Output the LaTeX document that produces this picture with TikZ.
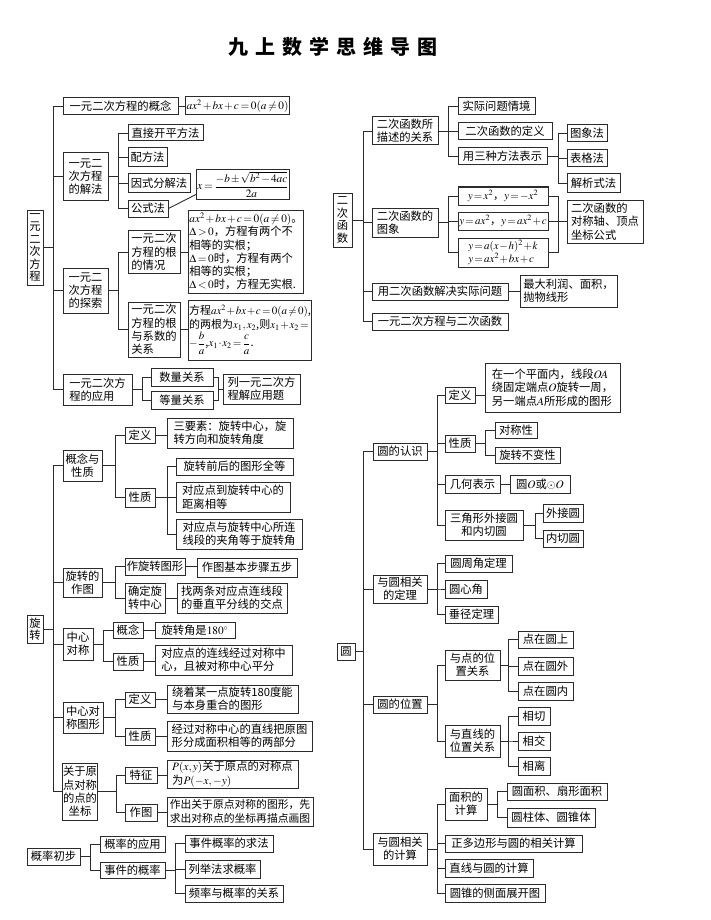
\documentclass[tikz,border=0pt]{standalone}
\usepackage{amsmath}
\usepackage{mathptmx}
\usepackage[no-math]{fontspec}
\setmainfont{Noto Sans CJK SC}
\definecolor{lc}{HTML}{2B2B2B}
\newcommand{\fsz}{\fontsize{11.3}{13.3}\selectfont\medmuskip=1.5mu\relax\thickmuskip=2.5mu\relax}
\newcommand{\fszs}{\fontsize{11}{14}\selectfont\medmuskip=1mu\relax\thickmuskip=2mu\relax}
\newcommand{\fszq}{\fontsize{11}{13}\selectfont\medmuskip=1mu\relax\thickmuskip=2mu\relax}
\newcommand{\fszt}{\fontsize{10.8}{13.3}\selectfont}
\newcommand{\vsz}{\fontsize{11.3}{12.5}\selectfont}
\tikzset{
  bx/.style={draw=lc, line width=1pt, inner sep=1pt, font=\fsz, align=center, text=black},
  vbx/.style={bx, font=\vsz},
  lft/.style={align=left},
  sz/.style 2 args={minimum width=#1pt, minimum height=#2pt},
  ln/.style={draw=lc, line width=0.9pt},
}
\begin{document}
\begin{tikzpicture}[x=1pt,y=-1pt]
\useasboundingbox (0,0) rectangle (711,920);
\node[font=\fontsize{20}{24}\selectfont\bfseries] (title) at (333,47)
  {九\hspace{7pt}上\hspace{7pt}数\hspace{7pt}学\hspace{7pt}思\hspace{7pt}维\hspace{7pt}导\hspace{7pt}图};

% ---------- 一元二次方程 ----------
\node[vbx,sz={16}{75}] (n1) at (35,247.5) {一\\元\\二\\次\\方\\程};
\node[bx,sz={115}{17}] (a1) at (120.5,106.5) {一元二次方程的概念};
\node[bx,sz={99}{18}] (a1f) at (237.5,106) {$ax^2+bx+c=0(a\neq 0)$};
\node[bx,lft,sz={45}{47}] (a2) at (85.5,176.5) {一元二\\次方程\\的解法};
\node[bx,sz={75}{16}] (a21) at (165.5,133) {直接开平方法};
\node[bx,sz={39}{19}] (a22) at (147.5,157.5) {配方法};
\node[bx,sz={62}{18}] (a23) at (159,183) {因式分解法};
\node[bx,sz={40}{17}] (a24) at (148,208.5) {公式法};
\node[bx,sz={82}{29}] (a24f) at (243,184.5) {$x=\dfrac{-b\pm\sqrt{b^2-4ac}}{2a}$};
\node[bx,lft,sz={45}{45}] (a3) at (85.5,290.5) {一元二\\次方程\\的探索};
\node[bx,lft,sz={52}{43}] (a31) at (154,252) {一元二次\\方程的根\\的情况};
\node[bx,lft,sz={112}{83}] (a31f) at (246,251.5) {$ax^2+bx+c=0(a\neq 0)$。\\$\Delta>0$，方程有两个不\\相等的实根；\\$\Delta=0$时，方程有两个\\相等的实根；\\$\Delta<0$时，方程无实根.};
\node[bx,lft,sz={52}{55}] (a32) at (154,329.5) {一元二次\\方程的根\\与系数的\\关系};
\node[bx,lft,sz={120}{60},font=\fszs] (a32f) at (250,330) {方程$ax^2+bx+c=0(a\neq 0)$,\\的两根为$x_1,x_2$,则$x_1+x_2=$\\$-\dfrac{b}{a}$,$x_1\cdot x_2=\dfrac{c}{a}$.};
\node[bx,lft,sz={69}{31}] (a4) at (97.5,389.5) {一元二次方\\程的应用};
\node[bx,sz={62}{18}] (a41) at (182,377) {数量关系};
\node[bx,sz={62}{18}] (a42) at (182,400) {等量关系};
\node[bx,lft,sz={77}{30}] (a43) at (261.5,389) {列一元二次方\\程解应用题};

\foreach \c in {a1,a2,a3,a4} \draw[ln] (n1.east) -- ++(10,0) |- (\c.west);
\draw[ln] (a1.east) -- (a1.east -| a1f.west);
\foreach \c in {a21,a22,a23,a24} \draw[ln] (a2.east) -- ++(10,0) |- (\c.west);
\draw[ln] (a24.east) -- ([yshift=5pt]a24f.south west);
\foreach \c in {a31,a32} \draw[ln] (a3.east) -- ++(10,0) |- (\c.west);
\draw[ln] (a31.east) -- (a31.east -| a31f.west);
\draw[ln] (a32.east) -- (a32.east -| a32f.west);
\foreach \c in {a41,a42} \draw[ln] (a4.east) -- ++(10,0) |- (\c.west);
\foreach \c in {a41,a42} \draw[ln] (\c.east) -- ++(5,0) |- (a43.west);

% ---------- 旋转 ----------
\node[vbx,sz={16}{28}] (r) at (35,629) {旋\\转};
\node[bx,sz={39}{31}] (r1) at (82.5,465.5) {概念与\\性质};
\node[bx,sz={30}{16}] (r11) at (140,435) {定义};
\node[bx,lft,sz={126}{30}] (r11t) at (230,433) {三要素：旋转中心，旋\\转方向和旋转角度};
\node[bx,sz={30}{19}] (r12) at (140,497.5) {性质};
\node[bx,sz={117}{17}] (r121) at (234.5,466.5) {旋转前后的图形全等};
\node[bx,lft,sz={114}{30}] (r122) at (233,497) {对应点到旋转中心的\\距离相等};
\node[bx,lft,sz={126}{30}] (r123) at (239,534) {对应点与旋转中心所连\\线段的夹角等于旋转角};
\node[bx,sz={39}{29}] (r2) at (82.5,582.5) {旋转的\\作图};
\node[bx,sz={60}{17}] (r21) at (155,566.5) {作旋转图形};
\node[bx,sz={100}{19}] (r21t) at (247,567.5) {作图基本步骤五步};
\node[bx,sz={40}{30}] (r22) at (145,598) {确定旋\\转中心};
\node[bx,lft,sz={110}{30}] (r22t) at (232,598) {找两条对应点连线段\\的垂直平分线的交点};
\node[bx,sz={30}{32}] (r3) at (78,644) {中心\\对称};
\node[bx,sz={30}{16}] (r31) at (128,630) {概念};
\node[bx,sz={80}{16}] (r31t) at (195,630) {旋转角是$180^\circ$};
\node[bx,sz={30}{17}] (r32) at (128,661.5) {性质};
\node[bx,lft,sz={137}{30}] (r32t) at (223.5,660) {对应点的连线经过对称中\\心，且被对称中心平分};
\node[bx,sz={40}{31}] (r4) at (83,717.5) {中心对\\称图形};
\node[bx,sz={30}{15}] (r41) at (140,699.5) {定义};
\node[bx,lft,sz={131}{28}] (r41t) at (232.5,699) {绕着某一点旋转180度能\\与本身重合的图形};
\node[bx,sz={30}{17}] (r42) at (140,736.5) {性质};
\node[bx,lft,sz={145}{30}] (r42t) at (239.5,736) {经过对称中心的直线把原图\\形分成面积相等的两部分};
\node[bx,sz={34}{57}] (r5) at (80,791.5) {关于原\\点对称\\的点的\\坐标};
\node[bx,sz={32}{16}] (r51) at (141,775) {特征};
\node[bx,lft,sz={131}{28}] (r51t) at (232.5,774) {$P(x,y)$关于原点的对称点\\为$P(-x,-y)$};
\node[bx,sz={32}{17}] (r52) at (141,812.5) {作图};
\node[bx,lft,sz={146}{29},font=\fszt] (r52t) at (240,811.5) {作出关于原点对称的图形，先\\求出对称点的坐标再描点画图};

\foreach \c in {r1,r2,r3,r4,r5} \draw[ln] (r.east) -- ++(10,0) |- (\c.west);
\foreach \c in {r11,r12} \draw[ln] (r1.east) -- ++(13,0) |- (\c.west);
\draw[ln] (r11.east) -- (r11.east -| r11t.west);
\foreach \c in {r121,r122,r123} \draw[ln] (r12.east) -- ++(12,0) |- (\c.west);
\foreach \c in {r21,r22} \draw[ln] (r2.east) -- ++(13,0) |- (\c.west);
\draw[ln] (r21.east) -- (r21.east -| r21t.west);
\draw[ln] (r22.east) -- (r22.east -| r22t.west);
\foreach \c in {r31,r32} \draw[ln] (r3.east) -- ++(10,0) |- (\c.west);
\draw[ln] (r31.east) -- (r31.east -| r31t.west);
\draw[ln] (r32.east) -- (r32.east -| r32t.west);
\foreach \c in {r41,r42} \draw[ln] (r4.east) -- ++(12,0) |- (\c.west);
\draw[ln] (r41.east) -- (r41.east -| r41t.west);
\draw[ln] (r42.east) -- (r42.east -| r42t.west);
\foreach \c in {r51,r52} \draw[ln] (r5.east) -- ++(18,0) |- (\c.west);
\draw[ln] (r51.east) -- (r51.east -| r51t.west);
\draw[ln] (r52.east) -- (r52.east -| r52t.west);

% ---------- 概率初步 ----------
\node[bx,sz={53}{17}] (p) at (53.5,856.5) {概率初步};
\node[bx,sz={65}{16}] (p1) at (132.5,844) {概率的应用};
\node[bx,sz={65}{16}] (p2) at (132.5,870) {事件的概率};
\node[bx,sz={88}{17}] (p21) at (229,843.5) {事件概率的求法};
\node[bx,sz={75}{18}] (p22) at (222.5,869) {列举法求概率};
\node[bx,sz={98}{17}] (p23) at (234,893.5) {频率与概率的关系};
\foreach \c in {p1,p2} \draw[ln] (p.east) -- ++(10,0) |- (\c.west);
\foreach \c in {p21,p22,p23} \draw[ln] (p2.east) -- ++(10,0) |- (\c.west);

% ---------- 二次函数 ----------
\node[vbx,sz={19}{54}] (q) at (342.5,220) {二\\次\\函\\数};
\node[bx,lft,sz={66}{28}] (q1) at (405,131) {二次函数所\\描述的关系};
\node[bx,sz={77}{17}] (q11) at (496.5,106.5) {实际问题情境};
\node[bx,sz={94}{17}] (q12) at (505,131.5) {二次函数的定义};
\node[bx,sz={89}{17}] (q13) at (502.5,156.5) {用三种方法表示};
\node[bx,sz={40}{17}] (q131) at (587,133.5) {图象法};
\node[bx,sz={40}{17}] (q132) at (587,158.5) {表格法};
\node[bx,sz={53}{18}] (q133) at (593.5,183) {解析式法};
\node[bx,lft,sz={66}{29}] (q2) at (405,222.5) {二次函数的\\图象};
\node[bx,sz={90}{18},font=\fszq] (q21) at (503,196) {\hbox{$y=x^2$，$y=-x^2$}};
\node[bx,sz={90}{18},font=\fszq] (q22) at (503,221) {\hbox{$y=ax^2$，$y=ax^2+c$}};
\node[bx,lft,sz={90}{29},font=\fszq] (q23) at (503,252.5) {$y=a(x-h)^2+k$\\$y=ax^2+bx+c$};
\node[bx,lft,sz={76}{43}] (q2t) at (605,221.5) {二次函数的\\对称轴、顶点\\坐标公式};
\node[bx,sz={136}{17}] (q3) at (440,291.5) {用二次函数解决实际问题};
\node[bx,lft,sz={97}{32}] (q3t) at (568.5,291) {最大利润、面积，\\抛物线形};
\node[bx,sz={136}{17}] (q4) at (440,321.5) {一元二次方程与二次函数};

\foreach \c in {q1,q2,q3,q4} \draw[ln] (q.east) -- ++(11,0) |- (\c.west);
\foreach \c in {q11,q12,q13} \draw[ln] (q1.east) -- ++(10,0) |- (\c.west);
\foreach \c in {q131,q132,q133} \draw[ln] (q13.east) -- ++(11,0) |- (\c.west);
\foreach \c in {q21,q22,q23} \draw[ln] (q2.east) -- ++(10,0) |- (\c.west);
\foreach \c in {q21,q22,q23} \draw[ln] (\c.east) -- ++(10,0) |- (q2t.west);
\draw[ln] (q3.east) -- (q3.east -| q3t.west);

% ---------- 圆 ----------
\node[bx,sz={18}{17}] (c) at (346,651.5) {圆};
\node[bx,sz={54}{17}] (c1) at (400,451.5) {圆的认识};
\node[bx,sz={30}{16}] (c11) at (460,395) {定义};
\node[bx,lft,sz={135}{49}] (c11t) at (552.5,387.5) {在一个平面内，线段$OA$\\绕固定端点$O$旋转一周，\\另一端点$A$所形成的图形};
\node[bx,sz={30}{17}] (c12) at (460,443.5) {性质};
\node[bx,sz={42}{16}] (c121) at (516,430) {对称性};
\node[bx,sz={65}{16}] (c122) at (527.5,455) {旋转不变性};
\node[bx,sz={55}{18}] (c13) at (472.5,484) {几何表示};
\node[bx,sz={60}{18}] (c13t) at (540,484) {圆$O$或$\odot O$};
\node[bx,sz={78}{30}] (c14) at (484,525) {三角形外接圆\\和内切圆};
\node[bx,sz={40}{18}] (c141) at (563,513) {外接圆};
\node[bx,sz={40}{17}] (c142) at (563,538.5) {内切圆};
\node[bx,sz={54}{28}] (c2) at (400,589) {与圆相关\\的定理};
\node[bx,sz={67}{17}] (c21) at (478.5,563.5) {圆周角定理};
\node[bx,sz={42}{18}] (c22) at (466,589) {圆心角};
\node[bx,sz={53}{17}] (c23) at (471.5,614.5) {垂径定理};
\node[bx,sz={54}{17}] (c3) at (400,704.5) {圆的位置};
\node[bx,sz={55}{30}] (c31) at (472.5,665) {与点的位\\置关系};
\node[bx,sz={55}{17}] (c311) at (545.5,639.5) {点在圆上};
\node[bx,sz={55}{18}] (c312) at (545.5,666) {点在圆外};
\node[bx,sz={55}{18}] (c313) at (545.5,691) {点在圆内};
\node[bx,sz={55}{32}] (c32) at (472.5,741) {与直线的\\位置关系};
\node[bx,sz={32}{18}] (c321) at (534,716) {相切};
\node[bx,sz={32}{18}] (c322) at (534,741) {相交};
\node[bx,sz={32}{18}] (c323) at (534,766) {相离};
\node[bx,sz={54}{32}] (c4) at (400,849) {与圆相关\\的计算};
\node[bx,sz={42}{32}] (c41) at (466,804) {面积的\\计算};
\node[bx,sz={100}{17}] (c411) at (557,791.5) {圆面积、扇形面积};
\node[bx,sz={88}{19}] (c412) at (551,817.5) {圆柱体、圆锥体};
\node[bx,sz={137}{17}] (c42) at (513.5,843.5) {正多边形与圆的相关计算};
\node[bx,sz={88}{18}] (c43) at (489,868) {直线与圆的计算};
\node[bx,sz={100}{18}] (c44) at (495,893) {圆锥的侧面展开图};

\foreach \c in {c1,c2,c3,c4} \draw[ln] (c.east) -- ++(8,0) |- (\c.west);
\foreach \c in {c11,c12,c13,c14} \draw[ln] (c1.east) -- ++(10,0) |- (\c.west);
\draw[ln] (c11.east) -- (c11.east -| c11t.west);
\foreach \c in {c121,c122} \draw[ln] (c12.east) -- ++(10,0) |- (\c.west);
\draw[ln] (c13.east) -- (c13.east -| c13t.west);
\foreach \c in {c141,c142} \draw[ln] (c14.east) -- ++(12,0) |- (\c.west);
\foreach \c in {c21,c22,c23} \draw[ln] (c2.east) -- ++(10,0) |- (\c.west);
\foreach \c in {c31,c32} \draw[ln] (c3.east) -- ++(10,0) |- (\c.west);
\foreach \c in {c311,c312,c313} \draw[ln] (c31.east) -- ++(8,0) |- (\c.west);
\foreach \c in {c321,c322,c323} \draw[ln] (c32.east) -- ++(8,0) |- (\c.west);
\foreach \c in {c41,c42,c43,c44} \draw[ln] (c4.east) -- ++(10,0) |- (\c.west);
\foreach \c in {c411,c412} \draw[ln] (c41.east) -- ++(10,0) |- (\c.west);
\end{tikzpicture}
\end{document}
